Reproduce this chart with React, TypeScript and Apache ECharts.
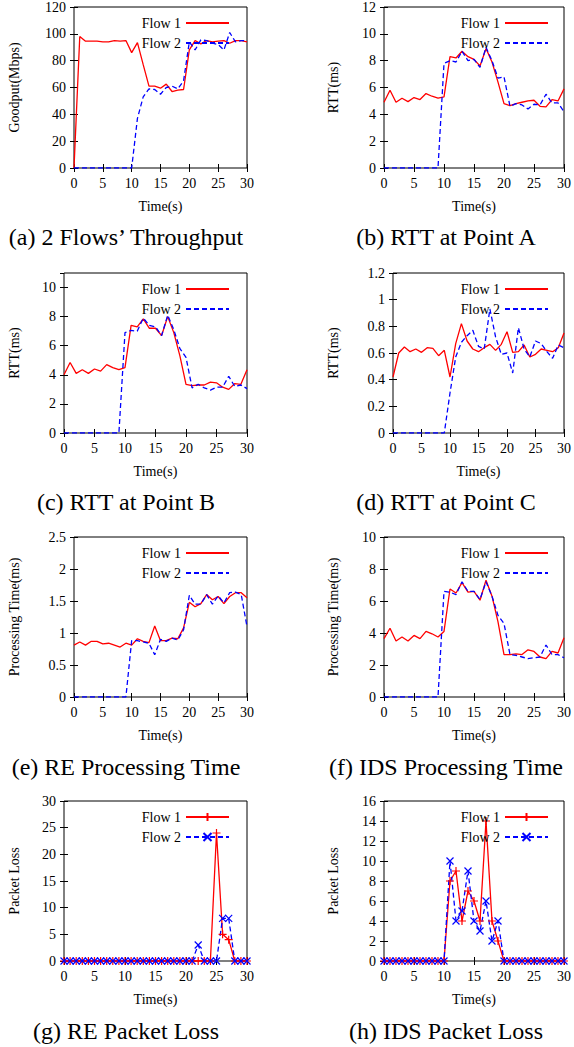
import React, { useEffect, useRef } from "react";
import * as echarts from "echarts";

const TIME = [0, 1, 2, 3, 4, 5, 6, 7, 8, 9, 10, 11, 12, 13, 14, 15, 16, 17, 18, 19, 20, 21, 22, 23, 24, 25, 26, 27, 28, 29, 30];
const X_TICKS = { min: 0, max: 30, step: 5 };

const GOODPUT_FLOW1 = [0, 98, 94.5, 94.5, 94.5, 94, 94, 95, 94.5, 95, 86, 93.5, 77, 61, 61, 59.5, 62.5, 57, 58, 58.5, 88, 95, 92.5, 95, 94, 94.5, 95, 93, 95, 95, 94];
const GOODPUT_FLOW2 = [0, 0, 0, 0, 0, 0, 0, 0, 0, 0, 0, 37, 53, 59, 58.5, 55, 60, 61, 59, 65, 94, 88, 95.5, 95, 93, 92, 88, 101, 94, 95, 95];

const RTT_A_FLOW1 = [4.9, 5.8, 4.9, 5.2, 4.95, 5.25, 5.1, 5.55, 5.35, 5.2, 5.3, 8.3, 8.2, 8.7, 8.3, 8.1, 7.6, 8.9, 7.9, 6.4, 4.8, 4.65, 4.8, 4.9, 5.0, 5.05, 4.6, 4.55, 5.1, 5.0, 5.9];
const RTT_A_FLOW2 = [0, 0, 0, 0, 0, 0, 0, 0, 0, 0, 7.8, 8.0, 7.9, 8.7, 8.0, 8.1, 7.5, 9.0, 8.0, 6.7, 6.8, 4.6, 4.8, 4.7, 4.4, 4.75, 4.7, 5.5, 4.85, 4.85, 4.2];

const RTT_B_FLOW1 = [4.0, 4.85, 4.1, 4.35, 4.1, 4.4, 4.25, 4.7, 4.5, 4.35, 4.5, 7.4, 7.3, 7.85, 7.2, 7.2, 6.7, 8.0, 6.9, 5.3, 3.35, 3.25, 3.3, 3.3, 3.5, 3.45, 3.15, 3.0, 3.4, 3.35, 4.35];
const RTT_B_FLOW2 = [0, 0, 0, 0, 0, 0, 0, 0, 0, 0, 6.9, 7.05, 7.0, 7.9, 7.4, 7.3, 6.7, 8.1, 7.1, 5.8, 5.2, 3.1, 3.35, 3.1, 2.95, 3.15, 3.15, 3.9, 3.2, 3.3, 3.05];

const RTT_C_FLOW1 = [0.42, 0.6, 0.645, 0.61, 0.63, 0.605, 0.64, 0.635, 0.58, 0.62, 0.42, 0.67, 0.82, 0.69, 0.63, 0.61, 0.64, 0.665, 0.62, 0.665, 0.76, 0.605, 0.61, 0.66, 0.57, 0.59, 0.63, 0.62, 0.61, 0.64, 0.75];
const RTT_C_FLOW2 = [0, 0, 0, 0, 0, 0, 0, 0, 0, 0, 0.3, 0.57, 0.68, 0.73, 0.77, 0.65, 0.63, 0.93, 0.72, 0.59, 0.6, 0.45, 0.79, 0.63, 0.57, 0.69, 0.67, 0.61, 0.56, 0.66, 0.64];

const RE_PROC_FLOW1 = [0.81, 0.86, 0.81, 0.87, 0.87, 0.83, 0.84, 0.81, 0.78, 0.84, 0.81, 0.91, 0.87, 0.85, 1.11, 0.88, 0.88, 0.92, 0.91, 1.08, 1.48, 1.41, 1.46, 1.6, 1.52, 1.57, 1.46, 1.57, 1.63, 1.63, 1.55];
const RE_PROC_FLOW2 = [0, 0, 0, 0, 0, 0, 0, 0, 0, 0, 0.88, 0.88, 0.86, 0.84, 0.66, 0.9, 0.87, 0.92, 0.89, 1.05, 1.59, 1.45, 1.45, 1.6, 1.45, 1.58, 1.47, 1.63, 1.64, 1.6, 1.1];

const IDS_PROC_FLOW1 = [3.65, 4.3, 3.5, 3.75, 3.5, 3.85, 3.65, 4.1, 3.95, 3.75, 4.1, 6.75, 6.5, 7.15, 6.55, 6.6, 6.05, 7.3, 6.3, 4.7, 2.65, 2.65, 2.7, 2.65, 2.95, 2.85, 2.5, 2.4, 2.85, 2.75, 3.7];
const IDS_PROC_FLOW2 = [0, 0, 0, 0, 0, 0, 0, 0, 0, 0, 6.6, 6.55, 6.4, 7.2, 6.6, 6.6, 6.1, 7.2, 6.3, 5.1, 4.6, 2.65, 2.6, 2.5, 2.4, 2.45, 2.5, 3.25, 2.65, 2.65, 2.45];

const RE_LOSS_FLOW1 = [0, 0, 0, 0, 0, 0, 0, 0, 0, 0, 0, 0, 0, 0, 0, 0, 0, 0, 0, 0, 0, 0, 0, 0, 0, 24, 5, 4, 0, 0, 0];
const RE_LOSS_FLOW2 = [0, 0, 0, 0, 0, 0, 0, 0, 0, 0, 0, 0, 0, 0, 0, 0, 0, 0, 0, 0, 0, 0, 3, 0, 0, 0, 8, 8, 0, 0, 0];

const IDS_LOSS_FLOW1 = [0, 0, 0, 0, 0, 0, 0, 0, 0, 0, 0, 8, 9, 4, 7, 6, 4, 14, 4, 2, 0, 0, 0, 0, 0, 0, 0, 0, 0, 0, 0];
const IDS_LOSS_FLOW2 = [0, 0, 0, 0, 0, 0, 0, 0, 0, 0, 0, 10, 4, 5, 9, 4, 3, 6, 2, 4, 0, 0, 0, 0, 0, 0, 0, 0, 0, 0, 0];

const FLOW_NAMES = ["Flow 1", "Flow 2"];
const X_NAME = "Time(s)";

const PANELS = [
  { id: "a", caption: "(a) 2 Flows\u2019 Throughput", yName: "Goodput(Mbps)", yMax: 120, yStep: 20, flow1: GOODPUT_FLOW1, flow2: GOODPUT_FLOW2, marks: false },
  { id: "b", caption: "(b) RTT at Point A", yName: "RTT(ms)", yMax: 12, yStep: 2, flow1: RTT_A_FLOW1, flow2: RTT_A_FLOW2, marks: false },
  { id: "c", caption: "(c) RTT at Point B", yName: "RTT(ms)", yMax: 11, yStep: 2, flow1: RTT_B_FLOW1, flow2: RTT_B_FLOW2, marks: false },
  { id: "d", caption: "(d) RTT at Point C", yName: "RTT(ms)", yMax: 1.2, yStep: 0.2, flow1: RTT_C_FLOW1, flow2: RTT_C_FLOW2, marks: false },
  { id: "e", caption: "(e) RE Processing Time", yName: "Processing Time(ms)", yMax: 2.5, yStep: 0.5, flow1: RE_PROC_FLOW1, flow2: RE_PROC_FLOW2, marks: false },
  { id: "f", caption: "(f) IDS Processing Time", yName: "Processing Time(ms)", yMax: 10, yStep: 2, flow1: IDS_PROC_FLOW1, flow2: IDS_PROC_FLOW2, marks: false },
  { id: "g", caption: "(g) RE Packet Loss", yName: "Packet Loss", yMax: 30, yStep: 5, flow1: RE_LOSS_FLOW1, flow2: RE_LOSS_FLOW2, marks: true },
  { id: "h", caption: "(h) IDS Packet Loss", yName: "Packet Loss", yMax: 16, yStep: 2, flow1: IDS_LOSS_FLOW1, flow2: IDS_LOSS_FLOW2, marks: true },
];

// layout (pixels)
const LAYOUT = [
  { left: 74, top: 7, width: 173, height: 161, nameGap: 53, legendRight: 344, capX: 126, capY: 237 },
  { left: 384, top: 7, width: 182, height: 161, nameGap: 44, legendRight: 25, capX: 446, capY: 237 },
  { left: 64, top: 273, width: 183, height: 160, nameGap: 43, legendRight: 344, capX: 126, capY: 502 },
  { left: 393, top: 273, width: 173, height: 160, nameGap: 53, legendRight: 25, capX: 446, capY: 502 },
  { left: 74, top: 537, width: 173, height: 160, nameGap: 53, legendRight: 344, capX: 126, capY: 767 },
  { left: 384, top: 537, width: 182, height: 160, nameGap: 44, legendRight: 25, capX: 446, capY: 767 },
  { left: 64, top: 801, width: 183, height: 160, nameGap: 43, legendRight: 344, capX: 126, capY: 1031 },
  { left: 384, top: 801, width: 182, height: 160, nameGap: 44, legendRight: 25, capX: 446, capY: 1031 },
];

const FONT = '"Liberation Serif", "Times New Roman", serif';
const RED = "#ff0000";
const BLUE = "#0000ff";
const PLUS = "path://M5,0L5,10M0,5L10,5";
const CROSS = "path://M0,0L10,10M10,0L0,10";

function buildOption() {
  const grid: any[] = [];
  const xAxis: any[] = [];
  const yAxis: any[] = [];
  const series: any[] = [];
  const legend: any[] = [];
  const graphic: any[] = [];
  const tick = { inside: true, length: 4, lineStyle: { color: "#000", width: 1 } };
  const label = { fontFamily: FONT, fontSize: 14, color: "#000" };

  PANELS.forEach((p, i) => {
    const L = LAYOUT[i];
    const steps = p.yMax / p.yStep;
    const maxOnTick = Math.abs(steps - Math.round(steps)) < 1e-9;
    grid.push({ left: L.left, top: L.top, width: L.width, height: L.height, show: true, borderColor: "#000", borderWidth: 1, backgroundColor: "transparent" });
    xAxis.push({
      type: "value", gridIndex: i, min: X_TICKS.min, max: X_TICKS.max, interval: X_TICKS.step, position: "bottom",
      name: X_NAME, nameLocation: "middle", nameGap: 31, nameTextStyle: label,
      axisLine: { show: false }, axisTick: tick, axisLabel: { ...label, margin: 8 }, splitLine: { show: false },
    });
    xAxis.push({
      type: "value", gridIndex: i, min: X_TICKS.min, max: X_TICKS.max, interval: X_TICKS.step, position: "top",
      axisLine: { show: false }, axisTick: tick, axisLabel: { show: false }, splitLine: { show: false },
    });
    yAxis.push({
      type: "value", gridIndex: i, min: 0, max: p.yMax, interval: p.yStep, position: "left",
      name: p.yName, nameLocation: "middle", nameGap: L.nameGap, nameTextStyle: label,
      axisLine: { show: false }, axisTick: tick, axisLabel: { ...label, margin: 8, showMaxLabel: maxOnTick }, splitLine: { show: false },
    });
    yAxis.push({
      type: "value", gridIndex: i, min: 0, max: p.yMax, interval: p.yStep, position: "right",
      axisLine: { show: false }, axisTick: tick, axisLabel: { show: false }, splitLine: { show: false },
    });
    const n1 = `${FLOW_NAMES[0]}#${p.id}`;
    const n2 = `${FLOW_NAMES[1]}#${p.id}`;
    series.push({
      type: "line", name: n1, xAxisIndex: 2 * i, yAxisIndex: 2 * i,
      data: TIME.map((t, k) => [t, p.flow1[k]]),
      symbol: p.marks ? PLUS : "none", symbolSize: 8, showAllSymbol: true,
      lineStyle: { color: RED, width: 1.3 },
      itemStyle: { color: RED, borderColor: RED, borderWidth: 1.2 },
    });
    series.push({
      type: "line", name: n2, xAxisIndex: 2 * i, yAxisIndex: 2 * i,
      data: TIME.map((t, k) => [t, p.flow2[k]]),
      symbol: p.marks ? CROSS : "none", symbolSize: 7, showAllSymbol: true,
      lineStyle: { color: BLUE, width: 1.3, type: [5, 3] },
      itemStyle: { color: BLUE, borderColor: BLUE, borderWidth: 1.2 },
    });
    const lg: any = {
      data: [n1, n2], formatter: (name: string) => name.split("#")[0],
      orient: "vertical", right: L.legendRight, top: L.top + 9, align: "right",
      itemWidth: 43, itemHeight: 10, itemGap: 6, padding: 0, selectedMode: false,
      textStyle: { fontFamily: FONT, fontSize: 14, color: "#000" },
    };
    if (!p.marks) lg.itemStyle = { color: "transparent", borderColor: "transparent", borderWidth: 0, opacity: 0 };
    legend.push(lg);
    graphic.push({
      type: "text", x: L.capX, y: L.capY,
      style: { text: p.caption, fontFamily: FONT, fontSize: 24, fill: "#000", align: "center", verticalAlign: "middle" },
    });
  });

  return { animation: false, backgroundColor: "#fff", grid, xAxis, yAxis, series, legend, graphic };
}

export default function App() {
  const ref = useRef<HTMLDivElement>(null);
  useEffect(() => {
    if (!ref.current) return;
    const chart = echarts.init(ref.current, null, { renderer: "svg" });
    chart.setOption(buildOption() as any);
    return () => chart.dispose();
  }, []);
  return <div ref={ref} style={{ position: "absolute", left: 0, top: 0, width: 574, height: 1047 }} />;
}
